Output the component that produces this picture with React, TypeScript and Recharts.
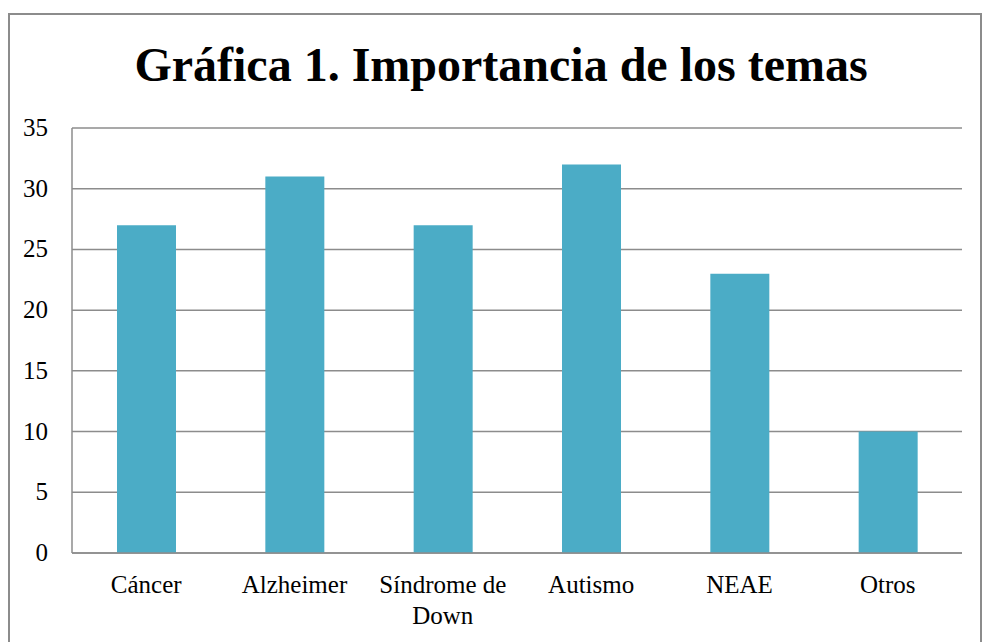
import { BarChart, Bar, XAxis, YAxis, CartesianGrid } from "recharts"

const categories = ["Cáncer", "Alzheimer", "Síndrome de Down", "Autismo", "NEAE", "Otros"]
const values = [27, 31, 27, 32, 23, 10]
const yTicks = [0, 5, 10, 15, 20, 25, 30, 35]

const data = categories.map((name, i) => ({ name, value: values[i] }))

const font = "'Liberation Serif', 'Times New Roman', serif"
const tickStyle = { fontSize: 25, fontFamily: font }

// long labels wrap their last word onto a second line, like the original
function splitLabel(label: string): string[] {
  if (label.length <= 12) return [label]
  const i = label.lastIndexOf(" ")
  return [label.slice(0, i), label.slice(i + 1)]
}

function CategoryTick(props: any) {
  const { x, y, payload } = props
  const lines = splitLabel(String(payload.value))
  return (
    <text x={x} y={y} textAnchor="middle" fill="#000" style={tickStyle}>
      {lines.map((line, i) => (
        <tspan key={i} x={x} dy={i === 0 ? 40 : 31}>
          {line}
        </tspan>
      ))}
    </text>
  )
}

function ValueTick(props: any) {
  const { x, y, payload } = props
  return (
    <text x={x} y={y} dy={8} textAnchor="end" fill="#000" style={tickStyle}>
      {payload.value}
    </text>
  )
}

export default function App() {
  return (
    <div style={{ position: "fixed", left: 0, top: 0, width: 982, height: 642, background: "#fff", overflow: "hidden" }}>
      <div
        style={{
          position: "absolute",
          left: 8,
          top: 13,
          width: 970,
          height: 660,
          border: "2px solid #8c8c8c",
        }}
      />
      <div
        style={{
          position: "absolute",
          left: 0,
          top: 37,
          width: 1002,
          textAlign: "center",
          fontFamily: font,
          fontWeight: "bold",
          fontSize: 48,
          lineHeight: "56px",
          color: "#000",
        }}
      >
        Gráfica 1. Importancia de los temas
      </div>
      <div style={{ position: "absolute", left: 0, top: 0 }}>
        <BarChart
          width={982}
          height={642}
          data={data}
          margin={{ top: 128, right: 20, bottom: 29, left: 0 }}
          barCategoryGap={0}
        >
          <CartesianGrid vertical={false} stroke="#8c8c8c" strokeWidth={1.5} />
          <XAxis
            dataKey="name"
            height={60}
            tickLine={false}
            tickSize={0}
            tickMargin={0}
            axisLine={{ stroke: "#8c8c8c", strokeWidth: 1.5 }}
            tick={<CategoryTick />}
            interval={0}
          />
          <YAxis
            width={72}
            domain={[0, 35]}
            ticks={yTicks}
            tickLine={false}
            tickSize={0}
            tickMargin={24}
            axisLine={{ stroke: "#8c8c8c", strokeWidth: 1.5 }}
            tick={<ValueTick />}
          />
          <Bar dataKey="value" fill="#4BACC6" barSize={59} isAnimationActive={false} />
        </BarChart>
      </div>
    </div>
  )
}
